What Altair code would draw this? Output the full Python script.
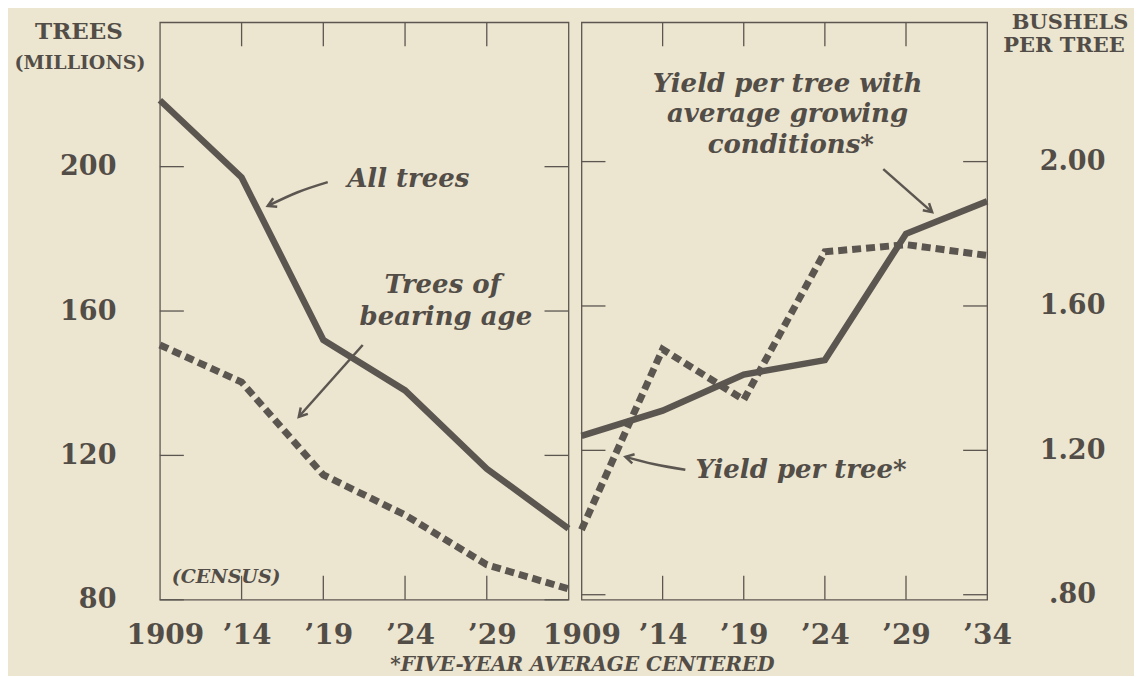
import altair as alt
import pandas as pd

# ---------------- data ----------------
years = [1909, 1914, 1919, 1924, 1929, 1934]
all_trees = [218.4, 197.0, 152.0, 138.0, 116.3, 99.7]          # millions
bearing_age = [150.6, 140.3, 114.6, 103.5, 89.7, 83.0]         # millions
yield_avg_cond = [1.24, 1.31, 1.41, 1.45, 1.80, 1.89]          # bushels per tree
yield_per_tree = [0.98, 1.48, 1.34, 1.75, 1.77, 1.74]          # bushels per tree

left_y_ticks = [80, 120, 160, 200]
right_y_ticks = [0.8, 1.2, 1.6, 2.0]
inner_x_ticks = [1914, 1919, 1924, 1929]
left_x_labels = [1909, 1914, 1919, 1924, 1929]
right_x_labels = [1909, 1914, 1919, 1924, 1929, 1934]

# annotations (data coordinates)
left_notes_text = ["All trees", "Trees of", "bearing age"]
left_notes_x = [1924.2, 1926.3, 1926.5]
left_notes_y = [196.5, 167.2, 158.3]
right_notes_text = ["Yield per tree with", "average growing", "conditions*"]
right_notes_x = [1921.7, 1921.7, 1921.9]
right_notes_y = [2.214, 2.131, 2.046]

left_arrow_id = ["a", "a", "a", "b", "b"]
left_arrow_x = [1919.27, 1917.43, 1915.6, 1921.41, 1917.5]
left_arrow_y = [195.7, 192.9, 189.1, 150.6, 130.7]
left_head_x = [1915.6, 1917.5]
left_head_y = [189.1, 130.7]
left_head_angle = [245, 222]

right_arrow_id = ["c", "c", "d", "d", "d"]
right_arrow_x = [1927.6, 1930.61, 1915.4, 1913.43, 1911.71]
right_arrow_y = [1.979, 1.860, 1.146, 1.162, 1.182]
right_head_x = [1930.61, 1911.71]
right_head_y = [1.860, 1.182]
right_head_angle = [131, 284]

# ---------------- style ----------------
INK = "#5b5650"
TEXT = "#524d47"
BG = "#ece5d0"
SERIF = "DejaVu Serif"
W_L, W_R, H = 409, 406, 578
TICK = 24
HEAD = "M -0.55 0.95 L 0 0 L 0.55 0.95"

xL = alt.Scale(domain=[1909, 1934], nice=False, zero=False)
yL = alt.Scale(domain=[80, 240], nice=False, zero=False)
xR = alt.Scale(domain=[1909, 1934], nice=False, zero=False)
yR = alt.Scale(domain=[0.786, 2.386], nice=False, zero=False)

x_expr = "datum.value == 1909 ? '1909' : '\u2019' + substring(toString(datum.value), 2, 4)"
axXL = alt.Axis(values=left_x_labels, labelExpr=x_expr, title=None, labelFontSize=28,
                labelPadding=22, labelOffset=5, tickSize=0, labelOverlap=False,
                labelFlush=False)
axXR = alt.Axis(values=right_x_labels, labelExpr=x_expr, title=None, labelFontSize=28,
                labelPadding=22, tickSize=0, labelOverlap=False, labelFlush=False)
axYL = alt.Axis(values=left_y_ticks, title=None, labelFontSize=27, labelAlign="right",
                labelPadding=44, tickSize=0, labelOverlap=False, labelFlush=False)
axYR = alt.Axis(values=right_y_ticks, title=None, orient="right", labelFontSize=27,
                labelAlign="center", labelPadding=85, tickSize=0, labelOverlap=False,
                labelFlush=False,
                labelExpr="datum.value < 1 ? '.80' : format(datum.value, '.2f')")

df = pd.DataFrame({"year": years, "all": all_trees, "bearing": bearing_age,
                   "yavg": yield_avg_cond, "yact": yield_per_tree})


def panel(xs, ys, axx, axy, yfield_solid, yfield_dash, xticks, yticks, width,
          notes, arrows, heads, extra):
    solid = alt.Chart(df).mark_line(color=INK, strokeWidth=6.5, strokeJoin="miter").encode(
        x=alt.X("year:Q", scale=xs, axis=axx),
        y=alt.Y(f"{yfield_solid}:Q", scale=ys, axis=axy))
    dashed = alt.Chart(df).mark_line(color=INK, strokeWidth=7, strokeDash=[9, 5],
                                     strokeCap="butt").encode(
        x=alt.X("year:Q", scale=xs, axis=axx),
        y=alt.Y(f"{yfield_dash}:Q", scale=ys, axis=axy))
    tx = pd.DataFrame({"t": xticks})
    ty = pd.DataFrame({"t": yticks})
    tick_bottom = alt.Chart(tx).mark_rule(color=INK, strokeWidth=1.3).encode(
        x=alt.X("t:Q", scale=xs, axis=axx), y=alt.value(H), y2=alt.value(H - TICK))
    tick_top = alt.Chart(tx).mark_rule(color=INK, strokeWidth=1.3).encode(
        x=alt.X("t:Q", scale=xs, axis=axx), y=alt.value(0), y2=alt.value(TICK))
    tick_left = alt.Chart(ty).mark_rule(color=INK, strokeWidth=1.3).encode(
        y=alt.Y("t:Q", scale=ys, axis=axy), x=alt.value(0), x2=alt.value(TICK))
    tick_right = alt.Chart(ty).mark_rule(color=INK, strokeWidth=1.3).encode(
        y=alt.Y("t:Q", scale=ys, axis=axy), x=alt.value(width - TICK), x2=alt.value(width))
    nt = alt.Chart(notes).mark_text(font=SERIF, fontSize=26, fontWeight="bold",
                                    fontStyle="italic", color=TEXT).encode(
        x=alt.X("x:Q", scale=xs, axis=axx), y=alt.Y("y:Q", scale=ys, axis=axy), text="text:N")
    ar = alt.Chart(arrows).mark_line(color=INK, strokeWidth=2.5, interpolate="monotone").encode(
        x=alt.X("x:Q", scale=xs, axis=axx), y=alt.Y("y:Q", scale=ys, axis=axy), detail="id:N")
    hd = alt.Chart(heads).mark_point(shape=HEAD, filled=False, size=300, color=INK,
                                     strokeWidth=2.5, opacity=1).encode(
        x=alt.X("x:Q", scale=xs, axis=axx), y=alt.Y("y:Q", scale=ys, axis=axy),
        angle=alt.Angle("angle:Q", scale=None))
    return alt.layer(solid, dashed, tick_bottom, tick_top, tick_left, tick_right,
                     nt, ar, hd, *extra).properties(width=width, height=H)


def label(txt, px, py, size, style="normal"):
    return alt.Chart(pd.DataFrame({"t": [txt]})).mark_text(
        font=SERIF, fontSize=size, fontWeight="bold", fontStyle=style, color=TEXT
    ).encode(text="t:N", x=alt.value(px), y=alt.value(py))


census = alt.Chart(pd.DataFrame({"t": ["(CENSUS)"], "x": [1909.73], "y": [86.4]})).mark_text(
    font=SERIF, fontSize=19, fontWeight="bold", fontStyle="italic", color=TEXT, align="left"
).encode(text="t:N", x=alt.X("x:Q", scale=xL, axis=axXL), y=alt.Y("y:Q", scale=yL, axis=axYL))

yield_star = alt.Chart(pd.DataFrame({"t": ["Yield per tree*"], "x": [1916.02], "y": [1.146]})).mark_text(
    font=SERIF, fontSize=26, fontWeight="bold", fontStyle="italic", color=TEXT, align="left"
).encode(text="t:N", x=alt.X("x:Q", scale=xR, axis=axXR), y=alt.Y("y:Q", scale=yR, axis=axYR))

left_notes = pd.DataFrame({"text": left_notes_text, "x": left_notes_x, "y": left_notes_y})
right_notes = pd.DataFrame({"text": right_notes_text, "x": right_notes_x, "y": right_notes_y})
left_arrows = pd.DataFrame({"id": left_arrow_id, "x": left_arrow_x, "y": left_arrow_y})
right_arrows = pd.DataFrame({"id": right_arrow_id, "x": right_arrow_x, "y": right_arrow_y})
left_heads = pd.DataFrame({"x": left_head_x, "y": left_head_y, "angle": left_head_angle})
right_heads = pd.DataFrame({"x": right_head_x, "y": right_head_y, "angle": right_head_angle})

left = panel(xL, yL, axXL, axYL, "all", "bearing", inner_x_ticks, left_y_ticks, W_L,
             left_notes, left_arrows, left_heads,
             [census,
              label("TREES", -81, 10, 23),
              label("(MILLIONS)", -80, 41, 19),
              label("*FIVE-YEAR AVERAGE CENTERED", 423, 643, 20, style="italic")])
right = panel(xR, yR, axXR, axYR, "yavg", "yact", inner_x_ticks, right_y_ticks, W_R,
              right_notes, right_arrows, right_heads,
              [yield_star,
               label("BUSHELS", 489, 1, 21),
               label("PER TREE", 483, 24, 21)])

chart = alt.hconcat(left, right, spacing=13, bounds="flush").configure(
    background=BG, padding={"left": 5, "top": 3, "right": 4, "bottom": 0}
).configure_view(stroke=INK, strokeWidth=1.3).configure_axis(
    grid=False, ticks=False, domain=False, labelFont=SERIF, labelFontWeight="bold",
    labelColor=TEXT)

chart.save("out.html", embed_options={"renderer": "svg", "actions": False})
